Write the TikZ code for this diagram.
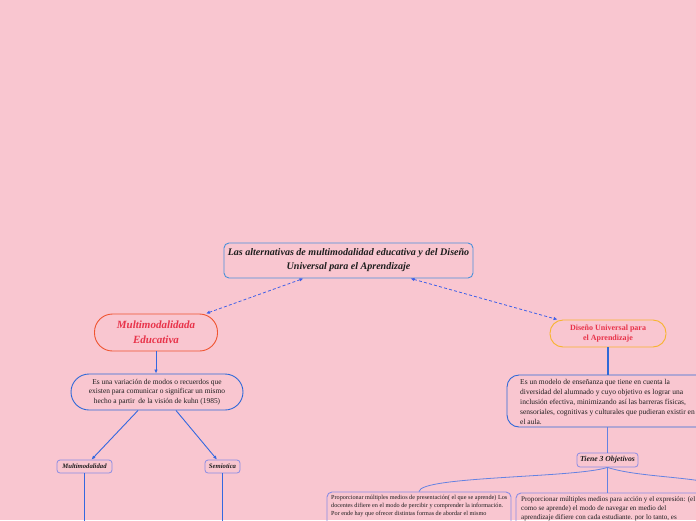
\documentclass[tikz,border=0pt]{standalone}
\usepackage{fontspec}
\setmainfont{Liberation Serif}
\usetikzlibrary{arrows.meta}
\definecolor{bg}{RGB}{249,198,208}
\definecolor{rootb}{RGB}{74,144,217}
\definecolor{multib}{RGB}{240,84,48}
\definecolor{disb}{RGB}{247,180,44}
\definecolor{redtxt}{RGB}{232,51,74}
\definecolor{blueb}{RGB}{47,105,216}
\definecolor{lightb}{RGB}{138,140,228}
\definecolor{dashc}{RGB}{64,96,232}
\definecolor{conn}{RGB}{52,104,224}
\definecolor{thinc}{RGB}{100,130,226}
\definecolor{txt}{RGB}{30,30,30}
\tikzset{
  box/.style={draw, line width=0.9pt, inner sep=0pt, text=txt, align=center},
  tiny/.style={box, draw=lightb, line width=0.8pt, rounded corners=3pt, minimum height=13pt,
     font=\fontsize{6.7}{7.5}\selectfont\bfseries\itshape},
  dashedarrow/.style={draw=dashc, line width=0.8pt, dash pattern=on 3pt off 2.2pt,
     {Latex[length=4pt,width=3.5pt]}-{Latex[length=4pt,width=3.5pt]}},
  solidarrow/.style={draw=conn, line width=0.9pt, -{Latex[length=4pt,width=3.5pt]}},
  thinline/.style={draw=thinc, line width=0.8pt},
  bodytext/.style={inner sep=0pt, text=txt, align=left}
}
\begin{document}
\begin{tikzpicture}[x=1pt,y=-1pt]
\fill[bg] (0,0) rectangle (696,520);
\useasboundingbox (0,0) rectangle (696,520);
\clip (0,0) rectangle (696,520);

% root
\node[box, draw=rootb, rounded corners=5pt, minimum width=249pt, minimum height=35pt,
  font=\fontsize{10.05}{14}\selectfont\bfseries\itshape] (root) at (348.5,260.5)
  {Las alternativas de multimodalidad educativa y del Diseño\\Universal para el Aprendizaje};

% Multimodalidada Educativa
\node[box, draw=multib, rounded corners=18pt, minimum width=123pt, minimum height=37pt,
  text=redtxt, font=\fontsize{11}{15}\selectfont\bfseries\itshape] (multi) at (156,332.5)
  {Multimodalidada\\Educativa};

% Diseño Universal
\node[box, draw=disb, rounded corners=13pt, minimum width=116pt, minimum height=27pt,
  text=redtxt, font=\fontsize{8}{10}\selectfont\bfseries] (dis) at (608,333.5)
  {Diseño Universal para\\el Aprendizaje};

% dashed connectors
\draw[dashedarrow] ([xshift=-45pt]root.south) -- ([xshift=-12pt]multi.north east);
\draw[dashedarrow] ([xshift=62pt]root.south) -- ([xshift=8pt]dis.north west);

% left text box
\node[box, draw=blueb, rounded corners=18pt, minimum width=172pt, minimum height=36pt,
  font=\fontsize{7.45}{9.4}\selectfont] (esuna) at (157,392)
  {Es una variación de modos o recuerdos que\\existen para comunicar o significar un mismo\\hecho a partir\ \ de la visión de kuhn (1985)};
\draw[solidarrow] (multi.south) -- (multi.south |- esuna.north);

% small boxes
\node[tiny, minimum width=55pt] (mm) at (84.5,466.5) {Multimodalidad};
\node[tiny, minimum width=35pt] (sem) at (222.5,466.5) {Semiotica};
\draw[solidarrow] ([xshift=-19pt]esuna.south) -- ([xshift=7pt]mm.north);
\draw[solidarrow] ([xshift=19pt]esuna.south) -- ([xshift=-5.5pt]sem.north);
\coordinate (mmend) at (85,530);
\coordinate (semend) at (222,530);
\draw[draw=conn, line width=0.9pt] (mm.south) -- (mm.south |- mmend);
\draw[draw=conn, line width=0.9pt] (sem.south) -- (sem.south |- semend);

% right text box
\node[box, draw=blueb, rounded corners=12pt, minimum width=213pt, minimum height=52pt] (esun) at (613.5,401) {};
\node[bodytext, anchor=west, font=\fontsize{7.5}{9.9}\selectfont] (esuntxt) at (520,402)
  {Es un modelo de enseñanza que tiene en cuenta la\\diversidad del alumnado y cuyo objetivo es lograr una\\inclusión efectiva, minimizando así las barreras físicas,\\sensoriales, cognitivas y culturales que pudieran existir en\\el aula.};
\draw[draw=blueb, line width=1.8pt] (dis.south) -- (dis.south |- esun.north);

% Tiene 3 objetivos
\node[tiny, minimum width=61pt, minimum height=14pt, font=\fontsize{7.7}{9}\selectfont\bfseries\itshape] (tiene) at (607.5,460) {Tiene 3 Objetivos};
\draw[thinline] (esun.south -| tiene.north) -- (tiene.north);

% bottom boxes
\node[box, draw=lightb, rounded corners=5pt, minimum width=184pt, minimum height=68pt] (lb) at (419,526) {};
\node[bodytext, anchor=north west, font=\fontsize{6.2}{8.1}\selectfont] (lbtxt) at (331,495)
  {Proporcionar múltiples medios de presentación( el que se aprende) Los\\docentes difiere en el modo de percibir y comprender la información.\\Por ende hay que ofrecer distintas formas de abordar el mismo};
\node[box, draw=lightb, rounded corners=5pt, minimum width=204pt, minimum height=68pt] (rb) at (618,527) {};
\node[bodytext, anchor=north west, font=\fontsize{7.05}{8.7}\selectfont] (rbtxt) at (521,496.5)
  {Proporcionar múltiples medios para acción y el expresión: (el\\como se aprende) el modo de navegar en medio del\\aprendizaje difiere con cada estudiante. por lo tanto, es};
\coordinate (rend) at (730,488);
\draw[thinline] (tiene.south) .. controls (575,478) and (420,476) .. (lb.north);
\draw[thinline] (tiene.south) -- (tiene.south |- rb.north);
\draw[thinline] (tiene.south) .. controls (640,478) and (700,476) .. (rend);
\end{tikzpicture}
\end{document}
